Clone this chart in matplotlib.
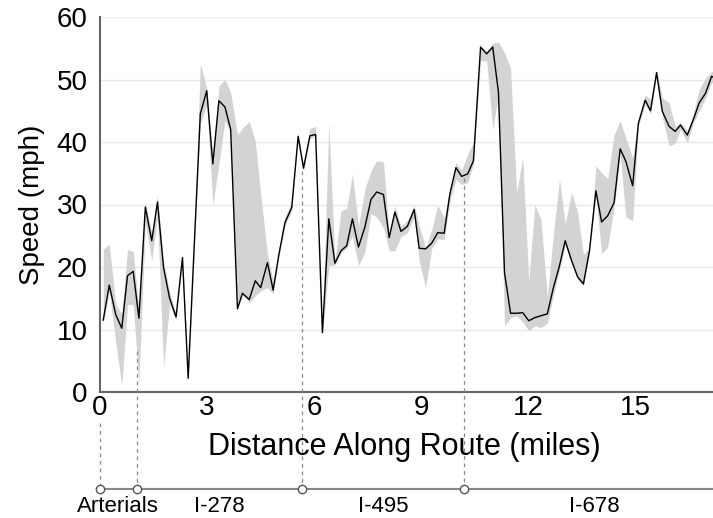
import matplotlib
matplotlib.use("Agg")
import matplotlib.pyplot as plt
import numpy as np

plt.rcParams['font.family'] = ['Liberation Sans', 'DejaVu Sans']

dist = [0.09, 0.26, 0.44, 0.61, 0.77, 0.93, 1.09, 1.27, 1.45, 1.61, 1.78, 1.95, 2.13, 2.31, 2.47,
        2.64, 2.81, 2.99, 3.16, 3.33, 3.50, 3.66, 3.85, 3.99, 4.18, 4.35, 4.50, 4.69, 4.85, 5.01,
        5.18, 5.37, 5.55, 5.70, 5.88, 6.04, 6.23, 6.41, 6.58, 6.75, 6.91, 7.07, 7.24, 7.42, 7.59,
        7.75, 7.94, 8.10, 8.26, 8.43, 8.61, 8.80, 8.94, 9.12, 9.29, 9.46, 9.64, 9.80, 9.97, 10.13,
        10.30, 10.46, 10.66, 10.83, 11.00, 11.16, 11.33, 11.50, 11.67, 11.84, 12.01, 12.18, 12.35,
        12.53, 12.70, 12.87, 13.03, 13.21, 13.38, 13.54, 13.71, 13.89, 14.05, 14.22, 14.40, 14.57,
        14.73, 14.92, 15.08, 15.27, 15.42, 15.59, 15.75, 15.94, 16.11, 16.26, 16.45, 16.62, 16.78,
        16.96, 17.13, 17.30]
speed = [11.5, 17.1, 12.4, 10.2, 18.6, 19.3, 11.8, 29.6, 24.2, 30.4, 19.9, 15.0, 12.0, 21.5, 2.2,
         23.5, 44.5, 48.2, 36.5, 46.6, 45.6, 42.0, 13.3, 15.8, 14.8, 17.8, 16.7, 20.7, 16.3, 22.0,
         27.1, 29.5, 40.9, 35.8, 41.0, 41.2, 9.5, 27.7, 20.6, 22.6, 23.4, 27.7, 23.2, 26.4, 30.8,
         32.0, 31.6, 24.7, 28.8, 25.7, 26.5, 29.2, 23.0, 22.9, 23.8, 25.5, 25.4, 31.7, 35.9, 34.5,
         34.9, 37.0, 55.2, 54.1, 55.2, 48.0, 19.1, 12.6, 12.6, 12.7, 11.4, 11.9, 12.2,
         12.5, 16.7, 20.2, 24.2, 21.0, 18.4, 17.3, 22.6, 32.2, 27.2, 28.2, 30.3, 38.9,
         36.9, 33.0, 43.0, 46.7, 45.0, 51.1, 44.9, 42.5, 41.7, 42.7, 41.1, 43.6, 46.2,
         47.8, 50.5, 50.0]
lower = [11.0, 16.0, 8.0, 1.0, 14.0, 14.0, 1.5, 27.0, 21.0, 28.0, 4.0, 14.0, 11.5, 21.0, 2.0,
         23.0, 43.0, 46.0, 30.0, 36.4, 43.5, 41.5, 13.3, 15.5, 14.3, 15.4, 16.2, 16.7, 15.7, 21.5,
         26.5, 29.0, 40.5, 35.5, 40.5, 41.0, 9.3, 20.2, 20.3, 22.3, 23.0, 25.0, 20.2, 22.4, 28.5,
         28.0, 26.3, 22.6, 22.6, 24.9, 25.5, 28.0, 21.0, 16.7, 23.0, 24.5, 24.4, 30.5, 34.0, 33.2,
         33.5, 36.5, 53.0, 53.0, 42.0, 47.5, 10.6, 11.9, 12.2, 11.2, 9.8, 10.6, 10.3,
         11.0, 15.5, 19.5, 23.5, 20.5, 18.0, 17.0, 22.2, 31.5, 22.1, 23.2, 29.5, 38.0,
         28.0, 27.4, 42.5, 46.0, 44.5, 50.5, 44.0, 39.4, 39.8, 42.0, 39.9, 43.0, 45.0,
         47.0, 49.5, 49.5]
upper = [22.8, 23.7, 14.0, 12.5, 22.8, 22.5, 13.0, 30.2, 25.5, 31.5, 21.0, 16.0, 12.5, 22.0, 2.6,
         24.0, 52.5, 48.7, 37.5, 49.0, 50.0, 47.9, 41.2, 42.2, 43.3, 40.1, 31.7, 22.1, 17.8, 22.5,
         28.0, 30.5, 41.5, 36.5, 42.2, 42.5, 10.0, 43.1, 21.0, 29.0, 29.4, 34.9, 26.5, 32.5, 35.4,
         37.0, 36.8, 25.5, 29.8, 26.5, 27.5, 29.8, 26.7, 23.0, 26.0, 29.9, 27.9, 32.5, 36.7, 35.5,
         38.1, 39.9, 55.3, 54.5, 55.8, 56.0, 54.3, 51.8, 31.9, 37.5, 17.8, 30.0, 27.6,
         15.2, 25.3, 34.1, 26.9, 31.9, 28.7, 22.0, 23.0, 36.2, 35.1, 34.1, 41.2, 43.4,
         40.6, 37.5, 43.5, 47.5, 46.8, 51.5, 47.1, 46.3, 42.5, 43.2, 41.8, 44.5, 48.4,
         50.2, 51.3, 51.0]

boundaries = [0.0, 1.03, 5.66, 10.2]
boundary_tops = [-5.0, 6.6, 35.4, 34.3]
route_end = 17.5
segment_names = ["Arterials", "I-278", "I-495", "I-678"]
xticks = [0, 3, 6, 9, 12, 15]
yticks = [0, 10, 20, 30, 40, 50, 60]

W, H = 713, 518
fig = plt.figure(figsize=(W / 100, H / 100), dpi=100)
ax = fig.add_axes([100 / W, (H - 392) / H, 1 - 100 / W, (392 - 17) / H])

ax.fill_between(dist, lower, upper, color='#d3d3d3', linewidth=0, zorder=2)
ax.plot(dist, speed, color='black', linewidth=1.0, zorder=3)

ax.set_xlim(0, 17.17)
ax.set_ylim(0, 60)
ax.set_xticks(xticks)
ax.set_yticks(yticks)
ax.tick_params(axis='both', length=0, labelsize=20, colors='black')
ax.tick_params(axis='y', pad=9)
ax.tick_params(axis='x', pad=2)
for y in yticks[1:]:
    ax.axhline(y, color='#e8e8e8', linewidth=1.0, zorder=1)
for s in ['top', 'right']:
    ax.spines[s].set_visible(False)
for s in ['left', 'bottom']:
    ax.spines[s].set_color('#666666')
    ax.spines[s].set_linewidth(1.5)

ax.set_ylabel("Speed (mph)", fontsize=20, labelpad=8)
ax.text(0.497, -0.147, "Distance Along Route (miles)", transform=ax.transAxes,
        ha='center', va='center', fontsize=22)

route_y = -15.5
label_y = -19.2
ax.plot([0, route_end], [route_y, route_y], color='#888888', linewidth=1.5,
        clip_on=False, zorder=4)
for bx, top in zip(boundaries, boundary_tops):
    ax.plot([bx, bx], [top, route_y], color='#888888', linewidth=0.9,
            linestyle=(0, (3, 3)), clip_on=False, zorder=4)
ax.plot(boundaries, [route_y] * len(boundaries), linestyle='none', marker='o',
        markersize=6, markerfacecolor='white', markeredgecolor='#555555',
        markeredgewidth=1.0, clip_on=False, zorder=5)
ends = boundaries[1:] + [route_end]
for start, end, name in zip(boundaries, ends, segment_names):
    ax.text((start + end) / 2, label_y, name, ha='center', va='baseline',
            fontsize=16, clip_on=False)

fig.savefig("out.png", dpi=100)
